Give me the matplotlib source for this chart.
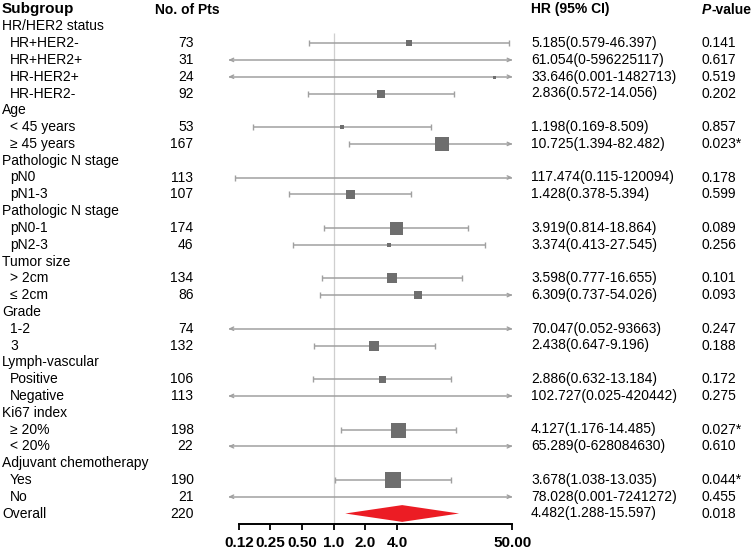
import numpy as np
import matplotlib
matplotlib.use("Agg")
import matplotlib.pyplot as plt
from matplotlib.transforms import blended_transform_factory
from matplotlib.patches import Polygon

plt.rcParams['font.family'] = ['Liberation Sans', 'DejaVu Sans']

# ---------------- data ----------------
labels = ["HR/HER2 status", "HR+HER2-", "HR+HER2+", "HR-HER2+", "HR-HER2-",
          "Age", "< 45 years", "\u2265 45 years",
          "Pathologic N stage", "pN0", "pN1-3",
          "Pathologic N stage", "pN0-1", "pN2-3",
          "Tumor size", "> 2cm", "\u2264 2cm",
          "Grade", "1-2", "3",
          "Lymph-vascular", "Positive", "Negative",
          "Ki67 index", "\u2265 20%", "< 20%",
          "Adjuvant chemotherapy", "Yes", "No",
          "Overall"]
is_header = [True, False, False, False, False,
             True, False, False,
             True, False, False,
             True, False, False,
             True, False, False,
             True, False, False,
             True, False, False,
             True, False, False,
             True, False, False,
             False]
n_pts = ["", "73", "31", "24", "92",
         "", "53", "167",
         "", "113", "107",
         "", "174", "46",
         "", "134", "86",
         "", "74", "132",
         "", "106", "113",
         "", "198", "22",
         "", "190", "21",
         "220"]
hr = [None, 5.185, 61.054, 33.646, 2.836,
      None, 1.198, 10.725,
      None, 117.474, 1.428,
      None, 3.919, 3.374,
      None, 3.598, 6.309,
      None, 70.047, 2.438,
      None, 2.886, 102.727,
      None, 4.127, 65.289,
      None, 3.678, 78.028,
      4.482]
lo = [None, 0.579, 0.0, 0.001, 0.572,
      None, 0.169, 1.394,
      None, 0.115, 0.378,
      None, 0.814, 0.413,
      None, 0.777, 0.737,
      None, 0.052, 0.647,
      None, 0.632, 0.025,
      None, 1.176, 0.0,
      None, 1.038, 0.001,
      1.288]
hi = [None, 46.397, 596225117, 1482713, 14.056,
      None, 8.509, 82.482,
      None, 120094, 5.394,
      None, 18.864, 27.545,
      None, 16.655, 54.026,
      None, 93663, 9.196,
      None, 13.184, 420442,
      None, 14.485, 628084630,
      None, 13.035, 7241272,
      15.597]
hr_text = ["", "5.185(0.579-46.397)", "61.054(0-596225117)", "33.646(0.001-1482713)",
           "2.836(0.572-14.056)",
           "", "1.198(0.169-8.509)", "10.725(1.394-82.482)",
           "", "117.474(0.115-120094)", "1.428(0.378-5.394)",
           "", "3.919(0.814-18.864)", "3.374(0.413-27.545)",
           "", "3.598(0.777-16.655)", "6.309(0.737-54.026)",
           "", "70.047(0.052-93663)", "2.438(0.647-9.196)",
           "", "2.886(0.632-13.184)", "102.727(0.025-420442)",
           "", "4.127(1.176-14.485)", "65.289(0-628084630)",
           "", "3.678(1.038-13.035)", "78.028(0.001-7241272)",
           "4.482(1.288-15.597)"]
p_text = ["", "0.141", "0.617", "0.519", "0.202",
          "", "0.857", "0.023*",
          "", "0.178", "0.599",
          "", "0.089", "0.256",
          "", "0.101", "0.093",
          "", "0.247", "0.188",
          "", "0.172", "0.275",
          "", "0.027*", "0.610",
          "", "0.044*", "0.455",
          "0.018"]
# relative box weights
weights = [0, 6, 0, 3, 8,
           0, 4, 14,
           0, 0, 9,
           0, 13, 4,
           0, 10, 8,
           0, 0, 10,
           0, 7, 0,
           0, 15, 0,
           0, 16, 0,
           0]
tick_vals = [0.125, 0.25, 0.5, 1.0, 2.0, 4.0, 50.0]
tick_labels = ["0.12", "0.25", "0.50", "1.0", "2.0", "4.0", "50.00"]
clip_lo, clip_hi = 0.1, 50.0

# ---------------- layout ----------------
W, H = 753, 554
fig = plt.figure(figsize=(W / 100, H / 100), dpi=100)

row0_px = 9.5        # y pixel of header row
row_px = 16.8        # pixels per row
x1_px = 333.7        # pixel of HR = 1
dec_px = 105.1       # pixels per decade
axis_px = 524.0      # pixel of x axis line

ax_left_px, ax_right_px = 215.0, 535.0
ax = fig.add_axes([ax_left_px / W, (H - axis_px) / H,
                   (ax_right_px - ax_left_px) / W, axis_px / H])
ax.set_xscale('log')
ax.set_xlim(10 ** ((ax_left_px - x1_px) / dec_px), 10 ** ((ax_right_px - x1_px) / dec_px))
ax.set_ylim((axis_px - row0_px) / row_px, (0 - row0_px) / row_px)
ax.patch.set_alpha(0)
for s in ['top', 'right', 'left']:
    ax.spines[s].set_visible(False)
ax.spines['bottom'].set_bounds(tick_vals[0], tick_vals[-1])
ax.spines['bottom'].set_linewidth(1.4)
ax.set_yticks([])
ax.set_xticks(tick_vals)
ax.set_xticklabels(tick_labels, fontweight='bold', fontsize=11)
ax.xaxis.set_minor_locator(matplotlib.ticker.NullLocator())
ax.tick_params(axis='x', direction='out', length=4.5, width=1.3, pad=4)

# reference line at 1
ax.vlines(1.0, (33 - row0_px) / row_px, (axis_px - row0_px) / row_px,
          color='#cfcfcf', lw=0.9, zorder=1)

line_col = '#a0a0a0'
box_col = '#6e6e6e'
for i, lab in enumerate(labels):
    r = i + 1
    if hr[i] is None:
        continue
    if i == len(labels) - 1:
        # overall diamond
        h = 0.5
        poly = Polygon([(lo[i], r), (hr[i], r - h), (hi[i], r), (hr[i], r + h)],
                       closed=True, facecolor='#ec1c24', edgecolor='none', zorder=3)
        ax.add_patch(poly)
        continue
    a = max(lo[i], clip_lo)
    b = min(hi[i], clip_hi)
    ax.plot([a, b], [r, r], color=line_col, lw=1.1, zorder=2, solid_capstyle='butt')
    # left end
    if lo[i] < clip_lo:
        ax.annotate('', xy=(a, r), xytext=(a * 1.08, r),
                    arrowprops=dict(arrowstyle='->,head_length=0.25,head_width=0.12',
                                    color=line_col, lw=1.0, shrinkA=0, shrinkB=0))
    else:
        ax.plot([a], [r], marker='|', ms=4, mew=1.0, color=line_col, zorder=2)
    # right end
    if hi[i] > clip_hi:
        ax.annotate('', xy=(b, r), xytext=(b / 1.08, r),
                    arrowprops=dict(arrowstyle='->,head_length=0.25,head_width=0.12',
                                    color=line_col, lw=1.0, shrinkA=0, shrinkB=0))
    else:
        ax.plot([b], [r], marker='|', ms=4, mew=1.0, color=line_col, zorder=2)
    if hr[i] <= clip_hi and weights[i] > 0:
        side = weights[i]
        ax.plot([hr[i]], [r], marker='s', ms=side * 0.72, color=box_col,
                mec=box_col, mew=0, zorder=3)

# ---------------- text columns ----------------
tr = blended_transform_factory(fig.transFigure, ax.transData)
fs = 10
ax.text(2 / W, 0, "Subgroup", transform=tr, fontsize=11, fontweight='bold',
        va='center', ha='left')
ax.text(155 / W, 0, "No. of Pts", transform=tr, fontsize=fs, fontweight='bold',
        va='center', ha='left')
ax.text(531 / W, 0, "HR (95% CI)", transform=tr, fontsize=fs, fontweight='bold',
        va='center', ha='left')
ax.text(702 / W, 0, "P", transform=tr, fontsize=fs, fontweight='bold',
        fontstyle='italic', va='center', ha='left')
ax.text(711.5 / W, 0, "-value", transform=tr, fontsize=fs, fontweight='bold',
        va='center', ha='left')

for i, lab in enumerate(labels):
    r = i + 1
    xl = 2 if is_header[i] or i == len(labels) - 1 else 10
    ax.text(xl / W, r, lab, transform=tr, fontsize=fs, va='center', ha='left')
    if n_pts[i]:
        ax.text(193.5 / W, r, n_pts[i], transform=tr, fontsize=fs, va='center', ha='right')
    if hr_text[i]:
        ax.text(531 / W, r, hr_text[i], transform=tr, fontsize=fs, va='center', ha='left')
    if p_text[i]:
        ax.text(702 / W, r, p_text[i], transform=tr, fontsize=fs, va='center', ha='left')

fig.savefig("out.png", dpi=100)
